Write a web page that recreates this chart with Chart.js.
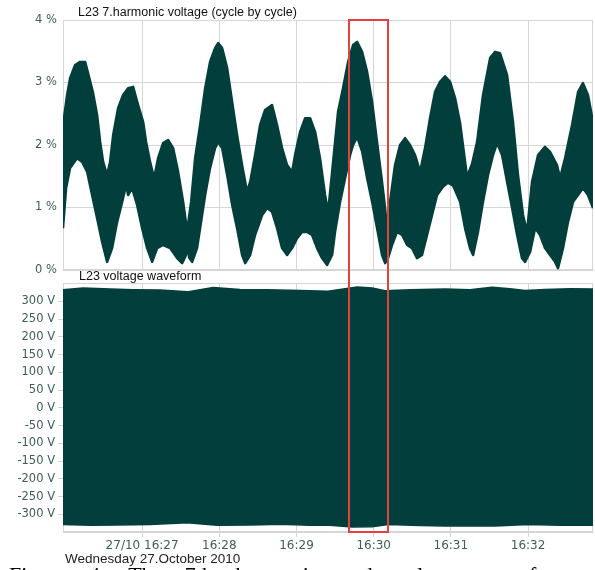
<!DOCTYPE html>
<html><head><meta charset="utf-8">
<script src="https://cdn.jsdelivr.net/npm/chart.js@4"></script>
<style>
html,body{margin:0;padding:0;background:#fff;width:595px;height:570px;overflow:hidden;position:relative;}
canvas{position:absolute;left:0;}
#c1{top:0}
#c2{top:272px}
.lbl{position:absolute;font-family:'Liberation Sans',Arial,sans-serif;color:#111;white-space:nowrap;}
#hl{position:absolute;border:2px solid #e2423b;box-sizing:border-box;}
#cap{position:absolute;left:9px;top:562px;font-family:'Liberation Serif','Times New Roman',serif;font-size:22px;color:#000;white-space:nowrap;word-spacing:17px;}
</style></head><body>
<canvas id="c1" width="595" height="285"></canvas>
<canvas id="c2" width="595" height="298"></canvas>
<div class="lbl" style="left:78px;top:5px;font-size:12.5px">L23 7.harmonic voltage (cycle by cycle)</div>
<div class="lbl" style="left:79px;top:269px;font-size:12.5px">L23 voltage waveform</div>
<div class="lbl" style="left:65px;top:551px;font-size:13.5px;color:#222">Wednesday 27.October 2010</div>
<div id="cap">Figure 4: The 7th harmonic and voltage waveform</div>
<div id="hl"></div>
<script>
// time axis: seconds after 16:26:00
const xMin = -1.5, xMax = 410.5;
const xTickTimes = [60, 120, 180, 240, 300, 360];
const xTickLabels = ['27/10 16:27', '16:28', '16:29', '16:30', '16:31', '16:32'];
const pctTicks = [0, 1, 2, 3, 4];
const voltTicks = [-300, -250, -200, -150, -100, -50, 0, 50, 100, 150, 200, 250, 300];
const highlight = [221, 251];

// 7th harmonic voltage (cycle by cycle) envelope, %
const harmUpperT = [-1.5,1.7,4,7.9,11.8,15.7,18,21.9,25,27.4,29.7,32.8,35.1,37.5,41.3,45.2,49.1,53,56.9,60.8,63.1,66.2,69.3,72.4,76.3,80.2,84.1,88,91.9,95,98.1,101.2,105.1,109,112.8,116.7,119.1,122.2,126.1,130,133.8,137.7,141.6,144,147.8,151.7,155.6,161,164.9,168.8,172.7,176.6,178.9,182.8,186.7,190.6,194.5,198.3,202.2,204.6,207.7,210,212.3,216.2,220.1,224,227.1,231,234.9,238.8,242.6,246.5,248.9,250.4,252.7,256.6,260.5,264.4,268.3,272.2,276.1,279.9,283.8,287.7,291.6,295.5,299.4,303.3,307.2,312.6,316.5,320.4,325,330.5,334.4,338.2,343.7,348.3,352.2,356.1,359.2,363.1,367.8,373.2,377.1,382.5,384.9,388.8,394.2,398.9,402.7,406.6,410.5];
const harmUpperV = [2.32,2.8,3.07,3.28,3.33,3.33,3.15,2.83,2.48,2.05,1.73,1.52,1.73,2.16,2.59,2.8,2.91,2.93,2.64,2.37,2.05,1.73,1.47,1.79,2.03,2.08,1.95,1.57,1.09,0.62,1.09,1.79,2.32,2.91,3.33,3.55,3.63,3.55,3.23,2.69,2.16,1.68,1.25,1.41,1.84,2.32,2.56,2.64,2.32,1.95,1.68,1.57,1.84,2.21,2.43,2.43,2.21,1.79,1.2,0.93,1.57,2.05,2.53,2.91,3.33,3.6,3.65,3.49,3.17,2.69,2.05,1.41,0.99,0.65,1.09,1.68,2.0,2.11,2.0,1.84,1.57,1.95,2.43,2.85,3.01,3.1,3.01,2.75,2.35,1.49,1.7,2.05,2.8,3.39,3.49,3.47,3.12,2.37,1.52,0.88,0.61,1.41,1.84,1.97,1.89,1.68,1.47,1.79,2.32,2.85,2.99,2.8,2.37];
const harmLowerT = [-1.5,0.9,4,9.5,13.4,17.3,21.1,25,28.9,32.8,36.7,40.6,44.5,47.6,49.1,52.2,56.1,60,63.9,67.8,71.7,76.3,81.8,87.2,91.1,94.2,95.4,96.5,98.9,102.7,105.1,109,112.8,116.7,119.1,122.2,126.1,130,133.8,137.7,140.1,144,147.8,153.3,157.2,161,164.9,168.8,172.7,176.6,180.5,184.4,188.2,192.1,196,199.9,203.8,207.7,210,213.9,217.8,221.7,224,227.1,231,234.9,238.8,242.6,246.5,248.9,251.2,254.3,258.2,262.1,266,269.8,273.7,277.6,281.5,285.4,289.3,293.9,297.8,301.7,307.2,311,314.9,317.3,321.1,325,328.9,332.8,335.9,339.8,343.7,347.6,351.5,355.3,357.7,361.6,365.5,369.3,373.2,377.1,381,383.3,387.2,391.1,395,398.9,402.7,406.6,410.5];
const harmLowerV = [0.67,1.31,1.63,1.79,1.73,1.57,1.2,0.83,0.45,0.13,0.35,0.77,1.09,1.36,1.2,1.31,1.04,0.67,0.35,0.13,0.35,0.4,0.35,0.19,0.11,0.24,0.5,0.2,0.13,0.35,0.67,1.2,1.63,1.95,2.05,1.95,1.52,1.04,0.67,0.24,0.11,0.24,0.56,0.88,0.99,0.93,0.67,0.35,0.24,0.35,0.51,0.61,0.61,0.56,0.35,0.19,0.08,0.24,0.61,1.09,1.47,1.84,2.0,2.13,1.9,1.47,1.09,0.67,0.24,0.11,0.19,0.4,0.61,0.56,0.4,0.35,0.19,0.24,0.56,0.88,1.2,1.33,1.4,1.35,1.09,0.67,0.35,0.24,0.61,1.09,1.52,1.84,2.03,1.84,1.41,0.99,0.56,0.19,0.13,0.29,0.67,0.56,0.35,0.24,0.13,0.03,0.35,0.77,1.09,1.2,1.31,1.2,0.99];

// voltage waveform envelope, V
const waveTopT = [-1.5,14.2,35.1,53,74,95,115.2,136.2,157.2,182.8,204.6,217.8,227.1,238.8,248.9,268.3,295.5,314.9,332,346,357.7,373.2,392.7,410.5];
const waveTopV = [333,338,335,333,332,327,339,334,333,331,329,336,341,338,330,333,335,333,340,336,331,334,336,335];
const waveBotT = [-1.5,19.6,40.9,66.2,95,118.3,144,167.3,190.6,206.1,223.2,238.8,251.2,276.1,295.5,334.4,360,384.9,410.5];
const waveBotV = [-329,-331,-330,-329,-324,-331,-330,-328,-331,-331,-336,-335,-329,-332,-333,-333,-329,-331,-331];

const bandColor = '#023f3c';
const gridColor = '#d6d6d6';
const tickColor = '#3f5c5c';
const tickFont = {family: "'DejaVu Sans', Verdana, sans-serif", size: 11.5};

const pts = (t, v) => t.map((x, i) => ({x: x, y: v[i]}));

const frame = {
  id: 'frame',
  beforeDatasetsDraw(c) {
    const a = c.chartArea, ctx = c.ctx;
    ctx.save(); ctx.strokeStyle = gridColor; ctx.lineWidth = 1;
    ctx.strokeRect(a.left + 0.5, a.top + 0.5, a.right - a.left - 1, a.bottom - a.top - 1);
    ctx.restore();
  }
};

function band(upper, lower, w) {
  return [
    {data: upper, borderColor: bandColor, backgroundColor: bandColor, borderWidth: w, pointRadius: 0, fill: '+1', tension: 0, borderJoinStyle: 'round'},
    {data: lower, borderColor: bandColor, backgroundColor: bandColor, borderWidth: w, pointRadius: 0, fill: false, tension: 0, borderJoinStyle: 'round'}
  ];
}

const common = {
  responsive: false, animation: false, devicePixelRatio: 1,
  plugins: {legend: {display: false}, tooltip: {enabled: false}},
  events: []
};

const chart1 = new Chart(document.getElementById('c1'), {
  type: 'line',
  data: {datasets: band(pts(harmUpperT, harmUpperV), pts(harmLowerT, harmLowerV), 2.5)},
  options: Object.assign({}, common, {
    layout: {padding: {top: 20, right: 2, bottom: 15, left: 0}},
    scales: {
      x: {type: 'linear', min: xMin, max: xMax,
          afterBuildTicks: s => { s.ticks = xTickTimes.map(v => ({value: v})); },
          ticks: {display: false}, grid: {color: gridColor, drawTicks: false}, border: {color: gridColor},
          afterFit: s => { s.height = 0; }},
      y: {type: 'linear', min: 0, max: 4,
          afterBuildTicks: s => { s.ticks = pctTicks.map(v => ({value: v})); },
          ticks: {callback: v => v + ' %', color: tickColor, font: tickFont, padding: 6},
          grid: {color: gridColor, drawTicks: false}, border: {color: gridColor},
          afterFit: s => { s.width = 63; }}
    }
  }),
  plugins: [frame]
});

const chart2 = new Chart(document.getElementById('c2'), {
  type: 'line',
  data: {datasets: band(pts(waveTopT, waveTopV), pts(waveBotT, waveBotV), 1.5)},
  options: Object.assign({}, common, {
    layout: {padding: {top: 11, right: 2, bottom: 0, left: 0}},
    scales: {
      x: {type: 'linear', min: xMin, max: xMax,
          afterBuildTicks: s => { s.ticks = xTickTimes.map(v => ({value: v})); },
          ticks: {callback: (v, i) => xTickLabels[i], color: tickColor, font: {family: tickFont.family, size: 12}, padding: 2, maxRotation: 0, autoSkip: false},
          grid: {color: gridColor, drawTicks: true, tickLength: 5}, border: {color: gridColor},
          afterFit: s => { s.height = 38; }},
      y: {type: 'linear', min: -350, max: 352,
          afterBuildTicks: s => { s.ticks = voltTicks.map(v => ({value: v})); },
          ticks: {callback: v => v + ' V', color: tickColor, font: tickFont, padding: 3},
          grid: {color: gridColor, drawTicks: true, tickLength: 5}, border: {color: gridColor},
          afterFit: s => { s.width = 63; }}
    }
  }),
  plugins: [frame]
});

// highlight box spanning both panels, positioned from the scales
const hl = document.getElementById('hl');
const xa = chart2.scales.x.getPixelForValue(highlight[0]);
const xb = chart2.scales.x.getPixelForValue(highlight[1]);
const top1 = chart1.chartArea.top - 1;
const bot2 = 272 + chart2.chartArea.bottom + 1;
hl.style.left = (xa - 1) + 'px';
hl.style.width = (xb - xa + 2) + 'px';
hl.style.top = top1 + 'px';
hl.style.height = (bot2 - top1) + 'px';
</script>
</body></html>
